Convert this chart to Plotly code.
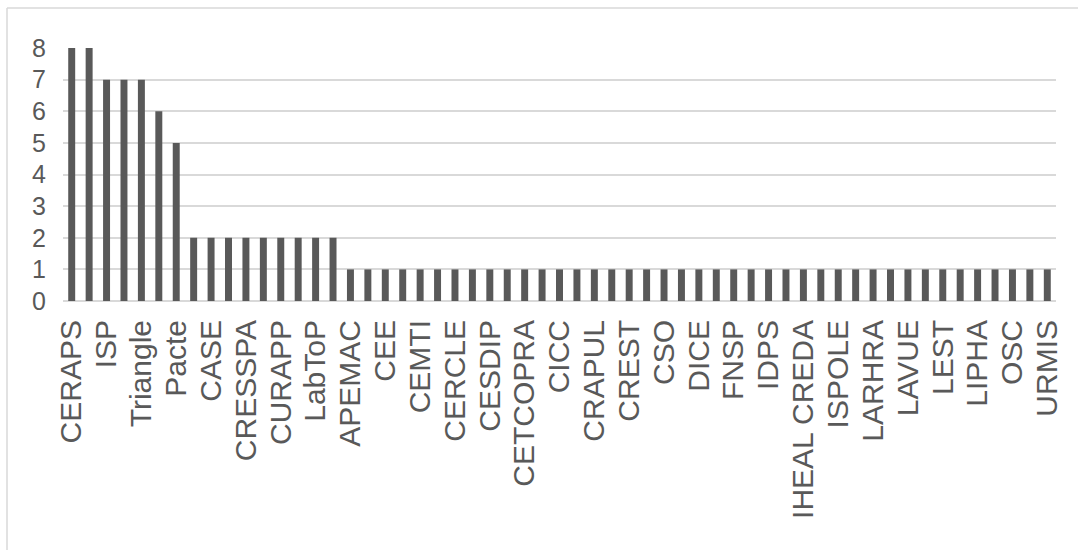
import plotly.graph_objects as go

categories = [
    "CERAPS", "CEVIPOF", "ISP", "LaSSP", "Triangle", "CED", "Pacte",
    "ARENES", "CASE", "CENS", "CRESSPA", "CRPS", "CURAPP", "IRISSO", "LabToP", "Sophiapol",
    "APEMAC", "CARISM", "CEE", "CEMS", "CEMTI", "CERAL", "CERCLE", "CERI", "CESDIP",
    "CESSP", "CETCOPRA", "CHERPA", "CICC", "CMH", "CRAPUL", "CREDESPO", "CREST",
    "CRIDUP", "CSO", "DCS", "DICE", "EHESS", "FNSP", "GSPE", "IDPS", "IEP",
    "IHEAL CREDA", "IRM", "ISPOLE", "LAMES", "LARHRA", "LASMIC", "LAVUE", "LEM",
    "LEST", "LIER", "LIPHA", "MESOPOLHIS", "OSC", "PRINTEMPS", "URMIS",
]
values = [8, 8, 7, 7, 7, 6, 5] + [2] * 9 + [1] * 41
shown_labels = categories[::2]
y_ticks = [0, 1, 2, 3, 4, 5, 6, 7, 8]

W, H = 1078, 550
L, R, T, B = 63, 1056, 48, 301

fig = go.Figure(go.Bar(x=categories, y=values, marker=dict(color="#595959", line=dict(width=0))))

def px2paper_x(px):
    return (px - L) / (R - L)

def px2paper_y(py):
    return (B - py) / (B - T)

fig.update_layout(
    width=W, height=H,
    margin=dict(l=L, r=W - R, t=T, b=H - B, pad=0),
    paper_bgcolor="white", plot_bgcolor="white",
    bargap=0.6,
    showlegend=False,
    font=dict(family="Liberation Sans, Arial, sans-serif", color="#595959"),
    xaxis=dict(
        type="category", tickmode="array", tickvals=shown_labels, ticktext=shown_labels,
        tickangle=-90, tickfont=dict(size=30, color="#595959"),
        showgrid=False, showline=False, ticks="", ticklabelstandoff=12,
        range=[-0.5, len(categories) - 0.5],
    ),
    yaxis=dict(
        range=[0, 8], tickmode="array", tickvals=y_ticks,
        tickfont=dict(size=25, color="#595959"),
        showgrid=True, gridcolor="#d9d9d9", gridwidth=1.5,
        zeroline=True, zerolinecolor="#d9d9d9", zerolinewidth=1.5,
        showline=False, ticks="", ticklabelstandoff=16,
    ),
    shapes=[
        dict(type="line", xref="paper", yref="paper",
             x0=px2paper_x(7), x1=px2paper_x(W + 5), y0=px2paper_y(8), y1=px2paper_y(8),
             line=dict(color="#d9d9d9", width=1.5)),
        dict(type="line", xref="paper", yref="paper",
             x0=px2paper_x(7), x1=px2paper_x(7), y0=px2paper_y(8), y1=px2paper_y(H + 5),
             line=dict(color="#d9d9d9", width=1.5)),
    ],
)

fig.write_html("out.html")
